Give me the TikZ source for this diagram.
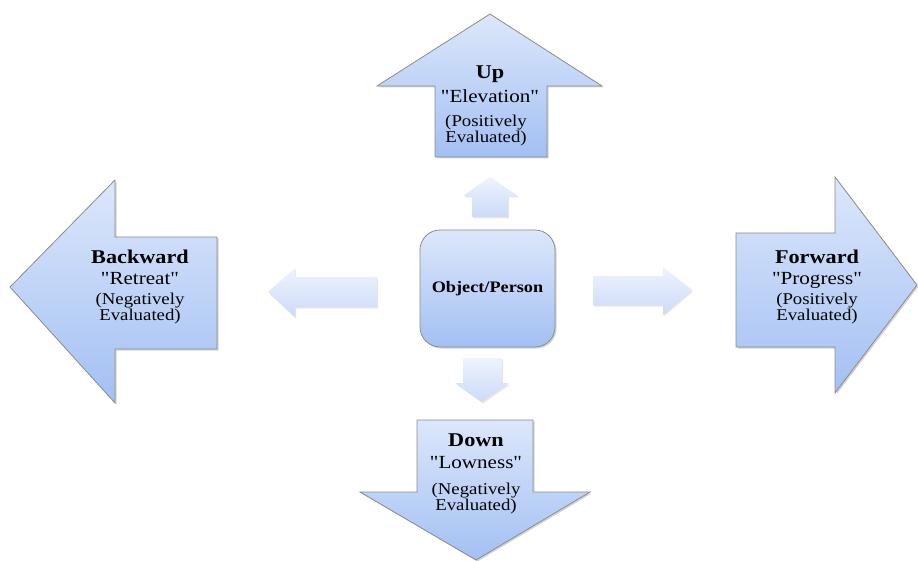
\documentclass[tikz,border=0pt]{standalone}
\usepackage{fontspec}
\setmainfont{Liberation Serif}[Ligatures=TeXOff, FakeStretch=1.14]
\usetikzlibrary{shadows}
\definecolor{gtop}{HTML}{DCE7FB}
\definecolor{gbot}{HTML}{A3C0F3}
\definecolor{ltop}{HTML}{EEF3FD}
\definecolor{lbot}{HTML}{CCDBF8}
\definecolor{edgegray}{HTML}{8C8C8C}
\begin{document}
\begin{tikzpicture}[x=1pt,y=-1pt,
  bigarrow/.style={draw=edgegray, line width=0.8pt, line join=miter, top color=gtop, bottom color=gbot,
    drop shadow={opacity=0.35, shadow xshift=1.5pt, shadow yshift=-1.5pt}},
  smallarrow/.style={top color=ltop, bottom color=lbot,
    drop shadow={opacity=0.2, shadow xshift=1pt, shadow yshift=-1.5pt}},
  ttl/.style={anchor=base, inner sep=0pt, font=\fontsize{19.5}{22}\selectfont\bfseries},
  quo/.style={anchor=base, inner sep=0pt, font=\fontsize{18.5}{22}\selectfont},
  evl/.style={anchor=base, inner sep=0pt, font=\fontsize{16.5}{17}\selectfont}]
\useasboundingbox (0,0) rectangle (918,561);

% big arrows
\path[bigarrow] (435,157) -- (435,86) -- (377,86) -- (490,14) -- (602,86) -- (547,86) -- (547,157) -- cycle;
\path[bigarrow] (217,237) -- (115,237) -- (115,180) -- (10,287) -- (115,403) -- (115,349) -- (217,349) -- cycle;
\path[bigarrow] (736,233) -- (835,233) -- (835,177) -- (917,285) -- (835,393) -- (835,347) -- (736,347) -- cycle;
\path[bigarrow] (417,420) -- (533,420) -- (533,492) -- (590,492) -- (476,560) -- (360,492) -- (417,492) -- cycle;

% small arrows
\path[smallarrow] (472,217) -- (472,196) -- (463,196) -- (490,177) -- (518,196) -- (508,196) -- (508,217) -- cycle;
\path[smallarrow] (377,277) -- (295,277) -- (295,268) -- (268,292) -- (295,317) -- (295,307) -- (377,307) -- cycle;
\path[smallarrow] (593,276) -- (663,276) -- (663,267) -- (692,290) -- (663,315) -- (663,305) -- (593,305) -- cycle;
\path[smallarrow] (463,358) -- (502,358) -- (502,383) -- (509,383) -- (482,402) -- (455,383) -- (463,383) -- cycle;

% center box
\node[draw=edgegray, line width=0.8pt, rounded corners=20pt, minimum width=135pt, minimum height=117pt,
  top color=gtop, bottom color=gbot, drop shadow={opacity=0.35, shadow xshift=1.5pt, shadow yshift=-1.5pt},
  font=\fontsize{16}{18}\selectfont\bfseries] (obj) at (487.5,288.5) {Object/Person};

% Up
\node[ttl] (upA) at (490,79) {Up};
\node[quo] (upB) at (490,103) {"Elevation"};
\node[evl] (upC) at (486,127) {(Positively};
\node[evl] (upD) at (486,143) {Evaluated)};

% Backward
\node[ttl] (bkA) at (140,264) {Backward};
\node[quo] (bkB) at (140,285) {"Retreat"};
\node[evl] (bkC) at (140,305) {(Negatively};
\node[evl] (bkD) at (140,320) {Evaluated)};

% Forward
\node[ttl] (fwA) at (817,264) {Forward};
\node[quo] (fwB) at (817,285) {"Progress"};
\node[evl] (fwC) at (817,305) {(Positively};
\node[evl] (fwD) at (817,320) {Evaluated)};

% Down
\node[ttl] (dnA) at (476,446) {Down};
\node[quo] (dnB) at (476,468) {"Lowness"};
\node[evl] (dnC) at (476,494) {(Negatively};
\node[evl] (dnD) at (476,510) {Evaluated)};
\end{tikzpicture}
\end{document}
